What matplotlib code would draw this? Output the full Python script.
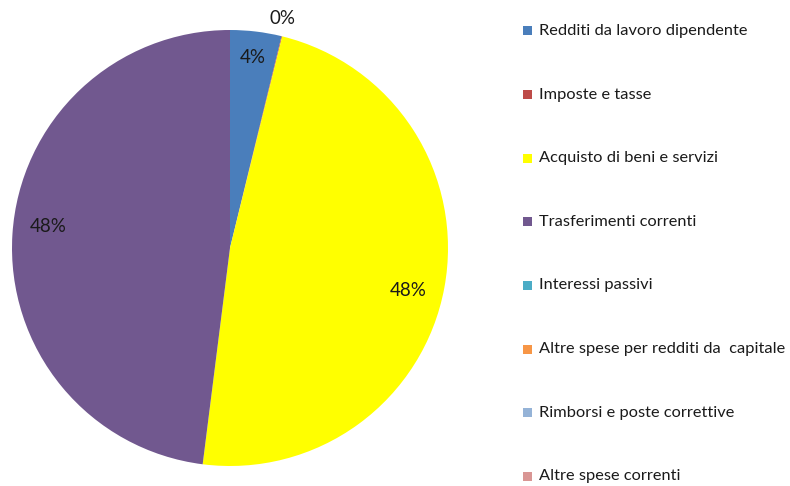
import numpy as np
import matplotlib
matplotlib.use('Agg')
import matplotlib.pyplot as plt
from matplotlib.patches import Rectangle

plt.rcParams['font.family'] = ['Lato', 'DejaVu Sans']

categories = ['Redditi da lavoro dipendente', 'Imposte e tasse', 'Acquisto di beni e servizi',
              'Trasferimenti correnti', 'Interessi passivi', 'Altre spese per redditi da  capitale',
              'Rimborsi e poste correttive', 'Altre spese correnti']
values = [3.8, 0.05, 48.15, 48.0, 0.0, 0.0, 0.0, 0.0]
labels_pct = ['4%', '0%', '48%', '48%', '', '', '', '']
colors = ['#4A7EBB', '#BE4B48', '#FFFF00', '#71588F', '#4BACC6', '#F79646', '#95B3D7', '#D99694']

fig = plt.figure(figsize=(7.9, 4.86), dpi=100)
ax = fig.add_axes([12 / 790, 20 / 486, 436 / 790, 436 / 486])

wedges, _ = ax.pie(values, colors=colors, startangle=90, counterclock=False,
                   radius=1.0, wedgeprops=dict(linewidth=0))
ax.set_xlim(-1, 1)
ax.set_ylim(-1, 1)
ax.set_aspect('equal')

# percentage labels (Excel best-fit placement, roughly)
lab_r = {'4%': 0.88, '0%': 1.08, '48%': 0.84}
lab_shift = {'4%': 0, '0%': 1, '48%': -3}
for w, lab in zip(wedges, labels_pct):
    if not lab:
        continue
    ang = np.deg2rad((w.theta1 + w.theta2) / 2 + lab_shift[lab])
    r = lab_r[lab]
    ax.text(r * np.cos(ang), r * np.sin(ang), lab, ha='center', va='center',
            fontsize=13.5, color='#1a1a1a')

# legend
y0 = 31
dy = 63.6
for i, (cat, c) in enumerate(zip(categories, colors)):
    y = 486 - (y0 + i * dy)
    fig.add_artist(Rectangle((523 / 790, (y - 4.5) / 486), 9 / 790, 9 / 486,
                             transform=fig.transFigure, color=c, lw=0))
    fig.text(539 / 790, y / 486, cat, ha='left', va='center', fontsize=11.8, color='#1a1a1a')

fig.savefig('out.png', dpi=100)
